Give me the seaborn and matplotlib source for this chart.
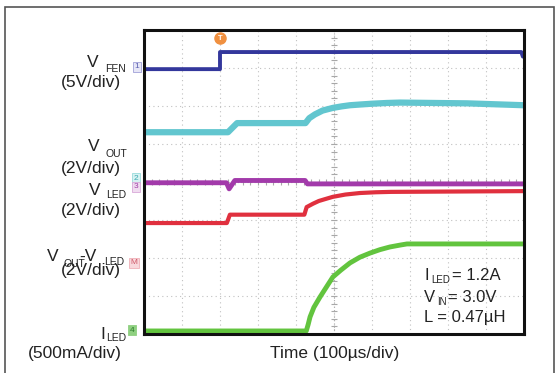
import matplotlib
matplotlib.use("Agg")
import matplotlib.pyplot as plt
import seaborn as sns
import numpy as np
from matplotlib.patches import Rectangle

# Oscilloscope capture: time in divisions (100 us/div), traces in screen divisions (0 = bottom)
t_fen = [0, 2.0, 2.0, 9.93, 9.97, 10]
v_fen = [6.97, 6.97, 7.42, 7.42, 7.30, 7.38]

t_out = [0, 2.21, 2.45, 4.25, 4.35, 4.5, 4.7, 4.97, 5.2, 5.42, 5.7, 6.0, 6.4, 6.74, 8.5, 10]
v_out = [5.31, 5.31, 5.55, 5.55, 5.68, 5.78, 5.88, 5.95, 5.99, 6.02, 6.04, 6.06, 6.08, 6.09, 6.07, 6.02]

t_led = [0, 2.17, 2.24, 2.39, 4.24, 4.30, 10]
v_led = [3.98, 3.98, 3.82, 4.04, 4.04, 3.95, 3.95]

t_diff = [0, 2.18, 2.26, 4.22, 4.28, 4.45, 4.6, 4.8, 4.97, 5.3, 5.68, 6.1, 6.5, 10]
v_diff = [2.92, 2.92, 3.14, 3.14, 3.34, 3.43, 3.50, 3.56, 3.61, 3.67, 3.71, 3.73, 3.74, 3.76]

t_iled = [0, 4.27, 4.32, 4.37, 4.47, 4.63, 4.79, 4.97, 5.18, 5.42, 5.68, 5.95, 6.21, 6.47, 6.74, 6.92, 10]
v_iled = [0.08, 0.08, 0.25, 0.45, 0.70, 0.97, 1.22, 1.50, 1.68, 1.87, 2.02, 2.13, 2.22, 2.29, 2.34, 2.37, 2.37]

t_trig = 2.0

W, H = 557, 373


def px(x, y):
    # pixel position -> figure fraction
    return x / W, 1 - y / H


sns.set_theme(style="white")
plt.rcParams["font.family"] = ["Liberation Sans", "DejaVu Sans"]

fig = plt.figure(figsize=(W / 100, H / 100), dpi=100)
fig.patch.set_facecolor("white")

# outer frame (bottom edge is cut off in the capture)
x0, y0 = px(5, 380)
x1, y1 = px(554, 7)
fig.patches.append(Rectangle((x0, y0), x1 - x0, y1 - y0, transform=fig.transFigure,
                             fill=False, edgecolor="#555555", linewidth=1.2))

l, b = px(144, 334)
r, t = px(524, 30)
ax = fig.add_axes([l, b, r - l, t - b])
ax.set_xlim(0, 10)
ax.set_ylim(0, 8)
ax.set_xticks([])
ax.set_yticks([])
for s in ax.spines.values():
    s.set_color("#111111")
    s.set_linewidth(2.2)

# graticule
for gx in range(1, 10):
    ax.axvline(gx, color="#c0c0c0", lw=0.8, ls=(0, (1, 3)), zorder=0)
for gy in range(1, 8):
    ax.axhline(gy, color="#c0c0c0", lw=0.8, ls=(0, (1, 3)), zorder=0)
ax.axvline(5, color="#b0b0b0", lw=0.8, ls=(0, (1, 2)), zorder=0)
ax.axhline(4, color="#b0b0b0", lw=0.8, ls=(0, (1, 2)), zorder=0)
minor = np.arange(0.2, 10, 0.2)
ax.plot(minor, np.full_like(minor, 4.0), ls="none", marker="|", ms=4, color="#a8a8a8", mew=0.8, zorder=0)
minor_y = np.arange(0.2, 8, 0.2)
ax.plot(np.full_like(minor_y, 5.0), minor_y, ls="none", marker="_", ms=4, color="#a8a8a8", mew=0.8, zorder=0)

# traces
sns.lineplot(x=t_out, y=v_out, estimator=None, sort=False, color="#62c6cf", lw=4.5, ax=ax)
sns.lineplot(x=t_led, y=v_led, estimator=None, sort=False, color="#a23aaa", lw=3.5, ax=ax)
sns.lineplot(x=t_diff, y=v_diff, estimator=None, sort=False, color="#e0303e", lw=3.0, ax=ax)
sns.lineplot(x=t_iled, y=v_iled, estimator=None, sort=False, color="#62c43e", lw=3.5, ax=ax)
sns.lineplot(x=t_fen, y=v_fen, estimator=None, sort=False, color="#33379c", lw=2.8, ax=ax)

# trigger marker
ax.plot([t_trig], [7.78], marker="o", ms=8, color="#f09040", clip_on=False, zorder=5)
ax.text(t_trig, 7.78, "T", color="white", fontsize=5.5, ha="center", va="center",
        fontweight="bold", zorder=6, clip_on=False)

# channel markers
markers = [("1", 137, 67, "#5a5fb0", "#e6e6f6", "#a0a0d8"),
           ("2", 136, 178, "#3aa8b0", "#d6f2f2", "#9adcdc"),
           ("3", 136, 187, "#a040a8", "#f0dcf0", "#d8a8d8"),
           ("M", 134, 263, "#d05a6a", "#f8d8dc", "#f0b0b8"),
           ("4", 132, 330, "#2a7a2a", "#8fd080", "#8fd080")]
for txt, mx, my, tc, fc, ec in markers:
    fx, fy = px(mx, my)
    fig.text(fx, fy, txt, fontsize=6, color=tc, ha="center", va="center",
             bbox=dict(boxstyle="square,pad=0.15", fc=fc, ec=ec, lw=0.6))

big = 12.5
small = 7.5


def put(x, y, s, size=big, ha="left"):
    fx, fy = px(x, y)
    fig.text(fx, fy, s, fontsize=size, ha=ha, va="baseline", color="#222222")


# left labels
put(87, 67, "V")
put(105, 72, "FEN", small)
put(121, 87.5, "(5V/div)", ha="right")

put(88, 151, "V")
put(106, 157, "OUT", small)
put(121, 173.5, "(2V/div)", ha="right")

put(89, 195, "V")
put(106, 198, "LED", small)
put(121, 214.5, "(2V/div)", ha="right")

put(47, 261, "V")
put(63, 267, "OUT", small)
put(79, 261, "-V")
put(104, 265, "LED", small)
put(121, 275, "(2V/div)", ha="right")

put(100, 339, "I")
put(106, 341, "LED", small)
put(122, 358, "(500mA/div)", ha="right")

# x label
put(335, 358, "Time (100µs/div)", ha="center")

# conditions
ann = 12
put(424, 280, "I", ann)
put(431, 283, "LED", small - 0.5)
put(452, 280, "= 1.2A", ann)
put(424, 302, "V", ann)
put(437, 305, "IN", small - 0.5)
put(448, 302, "= 3.0V", ann)
put(424, 322, "L = 0.47µH", ann)

fig.savefig("out.png", dpi=100, facecolor="white")
